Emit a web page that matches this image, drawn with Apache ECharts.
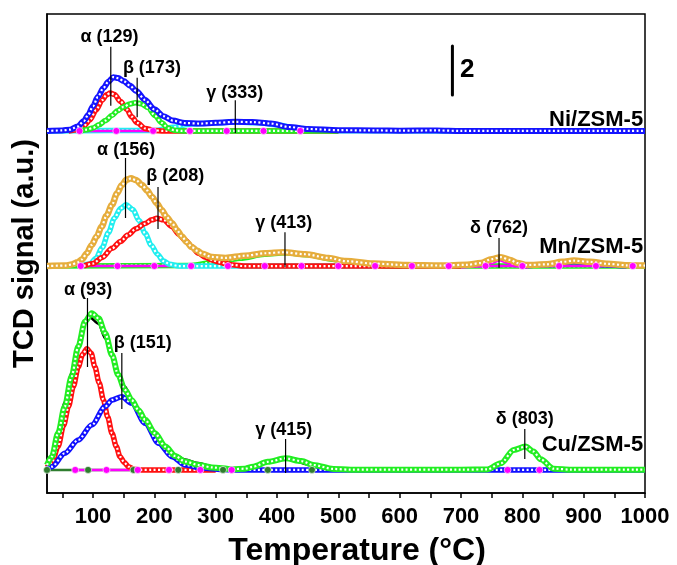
<!DOCTYPE html>
<html>
<head>
<meta charset="utf-8">
<script src="https://cdn.jsdelivr.net/npm/echarts@6/dist/echarts.min.js"></script>
<style>
html, body { margin: 0; padding: 0; background: #fff; }
#tpr_chart_container { width: 677px; height: 565px; }
</style>
</head>
<body>
<div id="tpr_chart_container"></div>
<script>
// temperature tick labels and tick marks
const xLabelValues = [100, 200, 300, 400, 500, 600, 700, 800, 900, 1000]
const xTickValues = [50, 100, 150, 200, 250, 300, 350, 400, 450, 500, 550, 600, 650, 700, 750, 800, 850, 900, 950, 1000]

// vertical offsets of the three profiles (signal units, 2 = scale bar)
const cuOffset = 0.94
const mnOffset = 9.24
const niOffset = 14.74

// Ni/ZSM-5  [temperature, signal]
const niTotal = [[25, 0], [50, 0.02], [62, 0.05], [75, 0.18], [85, 0.4], [92, 0.65], [100, 1.0], [108, 1.39], [117, 1.75], [125, 2.0], [133, 2.19], [141, 2.15], [150, 2.03], [160, 1.85], [170, 1.64], [185, 1.26], [200, 0.88], [215, 0.6], [230, 0.42], [250, 0.32], [275, 0.3], [300, 0.33], [333, 0.37], [360, 0.36], [390, 0.3], [420, 0.16], [450, 0.08], [500, 0.03], [560, 0.02], [600, 0.01], [660, 0.02], [700, 0], [1000, 0]]
const niAlpha = [[60, 0], [75, 0.05], [85, 0.2], [95, 0.45], [105, 0.85], [115, 1.25], [122, 1.47], [128, 1.54], [135, 1.48], [145, 1.2], [155, 0.88], [163, 0.58], [172, 0.33], [185, 0.1], [200, 0.02], [215, 0], [500, 0]]
const niBeta = [[80, 0], [90, 0.05], [100, 0.12], [110, 0.25], [120, 0.42], [131, 0.63], [140, 0.82], [150, 0.98], [160, 1.1], [169, 1.15], [178, 1.11], [190, 0.95], [201, 0.62], [212, 0.33], [222, 0.12], [232, 0.03], [245, 0], [500, 0]]
const niGamma = [[25, 0], [200, 0.02], [230, 0.15], [260, 0.28], [300, 0.33], [333, 0.36], [370, 0.33], [400, 0.25], [430, 0.12], [460, 0.05], [500, 0.01], [700, 0]]
const niBaseline = [[78, 0], [138, 0], [198, 0], [258, 0], [318, 0], [378, 0], [438, 0]]

// Mn/ZSM-5
const mnTotal = [[25, 0], [55, 0.02], [65, 0.06], [75, 0.15], [82, 0.27], [90, 0.52], [98, 0.86], [106, 1.2], [114, 1.6], [122, 2.05], [131, 2.49], [139, 2.95], [147, 3.3], [155, 3.52], [162, 3.57], [170, 3.5], [180, 3.3], [188, 3.08], [196, 2.82], [204, 2.55], [212, 2.28], [220, 2.0], [229, 1.74], [237, 1.46], [245, 1.2], [253, 0.97], [261, 0.77], [270, 0.62], [278, 0.5], [294, 0.37], [316, 0.33], [348, 0.42], [381, 0.52], [410, 0.56], [446, 0.48], [484, 0.33], [512, 0.2], [557, 0.1], [610, 0.04], [667, 0.02], [710, 0.05], [732, 0.12], [750, 0.28], [765, 0.36], [780, 0.25], [792, 0.12], [808, 0.04], [840, 0.07], [865, 0.17], [884, 0.22], [910, 0.17], [939, 0.09], [970, 0.03], [1000, 0.02]]
const mnAlpha = [[80, 0], [95, 0.08], [105, 0.32], [115, 0.75], [125, 1.35], [135, 1.95], [145, 2.35], [154, 2.49], [165, 2.3], [175, 1.85], [185, 1.33], [195, 0.85], [205, 0.48], [215, 0.2], [225, 0.07], [240, 0], [560, 0]]
const mnBeta = [[85, 0], [100, 0.1], [115, 0.35], [131, 0.72], [145, 1.0], [157, 1.26], [170, 1.52], [185, 1.73], [196, 1.88], [204, 1.94], [215, 1.88], [229, 1.6], [240, 1.3], [250, 1.06], [261, 0.78], [272, 0.52], [283, 0.36], [294, 0.25], [305, 0.16], [316, 0.1], [330, 0.04], [345, 0], [700, 0]]
const mnGamma = [[25, 0], [260, 0.02], [300, 0.16], [316, 0.22], [340, 0.32], [380, 0.48], [413, 0.54], [450, 0.46], [490, 0.28], [520, 0.14], [550, 0.05], [580, 0], [1000, 0]]
const mnDelta = [[700, 0], [735, 0.05], [750, 0.18], [763, 0.3], [776, 0.18], [790, 0.05], [810, 0]]
const mnHigh = [[800, 0], [840, 0.05], [884, 0.18], [930, 0.05], [970, 0]]
const mnBaseline = [[80, 0], [140, 0], [200, 0], [260, 0], [320, 0], [380, 0], [440, 0], [500, 0], [560, 0], [620, 0], [680, 0], [740, 0], [800, 0], [860, 0], [920, 0], [980, 0]]

// Cu/ZSM-5
const cuTotal = [[25, 0.2], [33, 0.54], [43, 1.49], [54, 2.58], [65, 3.8], [76, 5.02], [87, 6.04], [98, 6.38], [109, 6.17], [120, 5.56], [131, 4.68], [141, 3.87], [152, 3.26], [163, 2.85], [174, 2.44], [185, 2.04], [201, 1.49], [218, 0.95], [234, 0.57], [250, 0.34], [272, 0.2], [294, 0.1], [327, 0.03], [348, 0.05], [361, 0.13], [385, 0.33], [414, 0.47], [440, 0.36], [459, 0.2], [492, 0.04], [520, 0.01], [600, 0.01], [700, 0.01], [743, 0.02], [765, 0.27], [786, 0.81], [805, 0.95], [818, 0.75], [830, 0.43], [851, 0.05], [880, 0.01], [1000, 0.01]]
const cuMeasured = [[25, 0.25], [33, 0.6], [43, 1.6], [54, 2.75], [65, 3.95], [76, 5.1], [87, 5.95], [95, 6.2], [109, 5.95], [120, 5.35], [131, 4.6], [141, 3.95], [152, 3.4], [163, 2.9], [174, 2.45], [185, 2.04], [201, 1.5], [218, 0.98], [234, 0.62], [250, 0.42], [272, 0.28], [294, 0.15], [320, 0.05], [348, 0.03], [385, 0.3], [414, 0.44], [460, 0.18], [495, 0.02], [600, 0.0], [743, 0.01], [765, 0.25], [786, 0.79], [805, 0.93], [818, 0.73], [830, 0.41], [851, 0.04], [880, 0.0], [1000, 0.0]]
const cuAlpha = [[25, 0.1], [33, 0.28], [43, 0.95], [52, 1.8], [60, 2.58], [68, 3.4], [76, 4.2], [83, 4.7], [90, 4.93], [97, 4.75], [103, 4.2], [110, 3.55], [117, 2.85], [124, 2.15], [131, 1.49], [138, 0.95], [144, 0.54], [151, 0.3], [158, 0.13], [166, 0.04], [175, 0], [300, 0]]
const cuBeta = [[25, 0.05], [33, 0.13], [54, 0.68], [76, 1.22], [98, 1.83], [120, 2.58], [131, 2.85], [147, 2.98], [163, 2.72], [185, 1.9], [207, 1.09], [229, 0.54], [250, 0.2], [278, 0.08], [310, 0.02], [340, 0], [1000, 0]]
const cuMagenta = [[71, 0], [122, 0], [173, 0], [224, 0], [275, 0], [326, 0]]
const cuMagentaDelta = [[776, 0], [828, 0]]
const cuBaseline = [[25, 0], [92, 0], [166, 0], [239, 0], [312, 0], [385, 0], [457, 0]]

// peak labels: [text, label T, label y, line T, line top, line bottom]
const peakLabels = [
	["α (129)", 127, 18.55, 129, 18.17, 15.76],
	["β (173)", 196, 17.30, 172, 16.90, 15.30],
	["γ (333)", 331, 16.29, 332, 15.99, 14.66],
	["α (156)", 154, 13.97, 153, 13.64, 11.20],
	["β (208)", 234, 12.91, 206, 12.46, 10.75],
	["γ (413)", 411, 11.00, 413, 10.62, 9.20],
	["δ (762)", 762, 10.79, 762, 10.38, 9.16],
	["α (93)", 92, 8.27, 91, 7.94, 5.13],
	["β (151)", 181, 6.11, 147, 5.70, 3.42],
	["γ (415)", 411, 2.57, 414, 2.20, 0.81],
	["δ (803)", 804, 3.01, 804, 2.61, 1.38],
]
const sampleNames = [["Ni/ZSM-5", 15.19], ["Mn/ZSM-5", 10.03], ["Cu/ZSM-5", 1.95]]

const series = []
const fontFamily = "Liberation Sans, Arial, sans-serif"

function shift(data, offset) {
	return data.map((p) => [p[0], p[1] + offset])
}

// thick line with white dots, like the open circle chains of the original
function addCurve(data, offset, color, width) {
	const shifted = shift(data, offset)
	series.push({
		type: "line",
		data: shifted,
		smooth: 0.3,
		smoothMonotone: "x",
		symbol: "none",
		lineStyle: { color: color, width: width || 5.5 },
		silent: true,
	})
	series.push({
		type: "line",
		data: shifted,
		smooth: 0.3,
		smoothMonotone: "x",
		symbol: "none",
		lineStyle: { color: "#ffffff", width: 2.2, type: [2, 2.4] },
		silent: true,
	})
}

function addPlain(data, offset, color, width) {
	series.push({
		type: "line",
		data: shift(data, offset),
		smooth: 0.3,
		smoothMonotone: "x",
		symbol: "none",
		lineStyle: { color: color, width: width },
		silent: true,
	})
}

function addBaseline(data, offset, color) {
	series.push({
		type: "line",
		data: shift(data, offset),
		symbol: "circle",
		symbolSize: 7,
		showAllSymbol: true,
		itemStyle: { color: color, borderColor: "rgba(255,255,255,0.6)", borderWidth: 1 },
		lineStyle: { color: color, width: 2.5 },
		silent: true,
	})
}

// Cu/ZSM-5
addBaseline(cuBaseline, cuOffset, "#2f7d2f")
addBaseline(cuMagenta, cuOffset, "#ff00ff")
addBaseline(cuMagentaDelta, cuOffset, "#ff00ff")
addCurve(cuAlpha, cuOffset, "#ff1010")
addCurve(cuBeta, cuOffset, "#1010ff")
addPlain(cuMeasured, cuOffset, "#000000", 2.5)
addCurve(cuTotal, cuOffset, "#22ee22", 6)

// Mn/ZSM-5
addCurve(mnGamma, mnOffset, "#22ee22")
addCurve(mnHigh, mnOffset, "#1010ff")
addCurve(mnDelta, mnOffset, "#ff00ff")
addBaseline(mnBaseline, mnOffset, "#ff00ff")
addCurve(mnAlpha, mnOffset, "#20eef0")
addCurve(mnBeta, mnOffset, "#ff1010")
addCurve(mnTotal, mnOffset, "#e6ad3c", 6.5)

// Ni/ZSM-5
addCurve(niGamma, niOffset, "#20eef0")
addBaseline(niBaseline, niOffset, "#ff00ff")
addCurve(niAlpha, niOffset, "#ff1010")
addCurve(niBeta, niOffset, "#22ee22")
addCurve(niTotal, niOffset, "#1414ff", 6)

// peak marker lines and labels
peakLabels.forEach((p) => {
	series.push({
		type: "line",
		data: [[p[3], p[4]], [p[3], p[5]]],
		symbol: "none",
		lineStyle: { color: "#000", width: 1.2 },
		silent: true,
		z: 5,
	})
})
series.push({
	type: "scatter",
	symbolSize: 0,
	silent: true,
	z: 6,
	itemStyle: { opacity: 1 },
	data: peakLabels.map((p) => ({ name: p[0], value: [p[1], p[2]] })),
	label: {
		show: true,
		position: "inside",
		formatter: (d) => d.name,
		color: "#000",
		opacity: 1,
		fontSize: 18,
		fontWeight: "bold",
		fontFamily: fontFamily,
	},
})
series.push({
	type: "scatter",
	symbolSize: 0,
	silent: true,
	z: 6,
	itemStyle: { opacity: 1 },
	data: sampleNames.map((s) => ({ name: s[0], value: [997, s[1]] })),
	label: {
		show: true,
		position: "left",
		distance: 0,
		formatter: (d) => d.name,
		color: "#000",
		opacity: 1,
		fontSize: 22,
		fontWeight: "bold",
		fontFamily: fontFamily,
	},
})

// scale bar: 2 signal units
series.push({
	type: "line",
	data: [[686, 16.2], [686, 18.2]],
	symbol: "none",
	lineStyle: { color: "#000", width: 3, cap: "round" },
	silent: true,
	z: 5,
})
series.push({
	type: "scatter",
	symbolSize: 0,
	silent: true,
	itemStyle: { opacity: 1 },
	data: [{ name: "2", value: [710, 17.22] }],
	label: {
		show: true,
		position: "inside",
		formatter: "2",
		color: "#000",
		opacity: 1,
		fontSize: 26,
		fontWeight: "bold",
		fontFamily: fontFamily,
	},
})

const chart = echarts.init(document.getElementById("tpr_chart_container"))
chart.setOption({
	animation: false,
	backgroundColor: "#fff",
	grid: {
		left: 47,
		right: 32,
		top: 14,
		bottom: 72,
		outerBoundsMode: "none",
		containLabel: false,
		show: true,
		borderColor: "#000",
		borderWidth: 1.5,
	},
	xAxis: {
		type: "value",
		min: 25,
		max: 1000,
		name: "Temperature (°C)",
		nameLocation: "middle",
		nameGap: 42,
		nameTextStyle: {
			color: "#000",
			fontSize: 32,
			fontWeight: "bold",
			fontFamily: fontFamily,
			padding: [0, 0, 0, 22],
		},
		axisLine: { lineStyle: { color: "#000", width: 1.5 } },
		axisTick: {
			show: true,
			length: 5,
			customValues: xTickValues,
			lineStyle: { color: "#000", width: 1.5 },
		},
		axisLabel: {
			customValues: xLabelValues,
			formatter: (v) => String(v),
			margin: 13,
			color: "#000",
			fontSize: 22,
			fontWeight: "bold",
			fontFamily: fontFamily,
		},
		splitLine: { show: false },
	},
	yAxis: {
		type: "value",
		min: 0,
		max: 19.5,
		name: "TCD signal (a.u.)",
		nameLocation: "middle",
		nameGap: 8,
		nameTextStyle: {
			color: "#000",
			fontSize: 29,
			fontWeight: "bold",
			fontFamily: fontFamily,
		},
		axisLine: { show: true, lineStyle: { color: "#000", width: 1.5 } },
		axisTick: { show: false },
		axisLabel: { show: false },
		splitLine: { show: false },
	},
	series: series,
})
</script>
</body>
</html>
